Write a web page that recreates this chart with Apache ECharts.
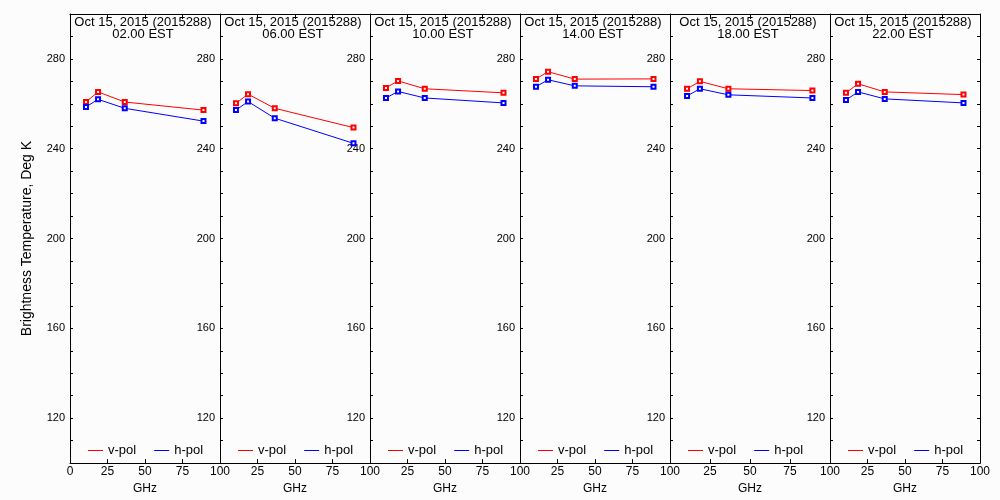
<!DOCTYPE html>
<html>
<head>
<meta charset="utf-8">
<script src="https://cdn.jsdelivr.net/npm/echarts@6/dist/echarts.min.js"></script>
<style>
html,body{margin:0;padding:0;background:#fcfcfc;}
#chart{width:1000px;height:500px;}
</style>
</head>
<body>
<div id="chart"></div>
<script>
// ---- data ----
var freqs = [10.65, 18.7, 36.5, 89.0];
var dateLabel = 'Oct 15, 2015 (2015288)';
var times = ['02.00 EST', '06.00 EST', '10.00 EST', '14.00 EST', '18.00 EST', '22.00 EST'];
var vpol0 = [260.8, 265.3, 260.8, 257.2];
var hpol0 = [258.6, 262.0, 258.0, 252.3];
var vpol1 = [260.2, 264.3, 258.0, 249.4];
var hpol1 = [257.2, 261.0, 253.6, 242.4];
var vpol2 = [267.1, 270.2, 266.7, 264.9];
var hpol2 = [262.6, 265.5, 262.6, 260.4];
var vpol3 = [271.1, 274.3, 271.0, 271.1];
var hpol3 = [267.6, 270.7, 268.0, 267.6];
var vpol4 = [266.7, 270.0, 266.7, 265.9];
var hpol4 = [263.5, 266.7, 264.0, 262.6];
var vpol5 = [264.9, 268.9, 265.3, 264.1];
var hpol5 = [261.7, 265.3, 262.2, 260.4];
var vpolAll = [vpol0, vpol1, vpol2, vpol3, vpol4, vpol5];
var hpolAll = [hpol0, hpol1, hpol2, hpol3, hpol4, hpol5];
var xTicks = [0, 25, 50, 75, 100];
var yLabels = [120, 160, 200, 240, 280];
var seriesNames = ['v-pol', 'h-pol'];

// ---- layout ----
var FONT = "'Liberation Sans', Arial, sans-serif";
var lefts = [70, 220, 370, 520, 670, 830];
var widths = [150, 150, 150, 150, 160, 150];
var TOP = 14, HEIGHT = 450;

var grids = [], xAxes = [], yAxes = [], series = [], legends = [], graphics = [];
function pairs(arr) { return arr.map(function (v, k) { return [freqs[k], v]; }); }

for (var i = 0; i < 6; i++) {
  grids.push({left: lefts[i], top: TOP, width: widths[i], height: HEIGHT, containLabel: false,
    show: false});
  var first = (i === 0);
  xAxes.push({
    type: 'value', gridIndex: i, min: 0, max: 100, interval: 25, position: 'bottom',
    name: 'GHz', nameLocation: 'middle', nameGap: 13,
    nameTextStyle: {fontFamily: FONT, fontSize: 12, color: '#000'},
    axisLine: {show: true, onZero: false, lineStyle: {color: '#000', width: 1}},
    axisTick: {show: true, inside: true, length: 4, lineStyle: {color: '#000'}},
    axisLabel: {show: true, margin: 3, fontFamily: FONT, fontSize: 12, color: '#000',
      showMinLabel: first, showMaxLabel: true,
      formatter: function (v) { return xTicks.indexOf(v) >= 0 ? String(v) : ''; }},
    splitLine: {show: false}
  });
  yAxes.push({
    type: 'value', gridIndex: i, min: 100, max: 300, interval: 10, position: 'left',
    name: first ? 'Brightness Temperature, Deg K' : '', nameLocation: 'middle', nameGap: 36,
    nameTextStyle: {fontFamily: FONT, fontSize: 14, color: '#000'},
    axisLine: {show: true, onZero: false, lineStyle: {color: '#000', width: 1}},
    axisTick: {show: true, inside: true, length: 3, lineStyle: {color: '#000'}},
    axisLabel: {show: true, margin: 5, fontFamily: FONT, fontSize: 11, color: '#000',
      showMinLabel: false, showMaxLabel: false,
      formatter: function (v) { return yLabels.indexOf(v) >= 0 ? String(v) : ''; }},
    splitLine: {show: false}
  });
}
// top axes (frame with ticks)
for (var j = 0; j < 6; j++) {
  xAxes.push({
    type: 'value', gridIndex: j, min: 0, max: 100, interval: 25, position: 'top',
    axisLine: {show: true, onZero: false, lineStyle: {color: '#000', width: 1}},
    axisTick: {show: true, inside: true, length: 5, lineStyle: {color: '#000'}},
    axisLabel: {show: false}, splitLine: {show: false}
  });
}
// right axis on the last panel
yAxes.push({
  type: 'value', gridIndex: 5, min: 100, max: 300, interval: 10, position: 'right',
  axisLine: {show: true, onZero: false, lineStyle: {color: '#000', width: 1}},
  axisTick: {show: true, inside: true, length: 3, lineStyle: {color: '#000'}},
  axisLabel: {show: false}, splitLine: {show: false}
});

var colors = ['#ff0000', '#0000ff'];
for (var p = 0; p < 6; p++) {
  [vpolAll[p], hpolAll[p]].forEach(function (vals, s) {
    series.push({
      type: 'line', name: seriesNames[s], xAxisIndex: p, yAxisIndex: p,
      data: pairs(vals), symbol: 'emptyRect', symbolSize: 4, showSymbol: true,
      lineStyle: {color: colors[s], width: 1}, itemStyle: {color: colors[s], borderWidth: 1},
      animation: false, silent: true
    });
  });
  legends.push({
    left: lefts[p] + 18, top: 444, orient: 'horizontal', padding: 0,
    data: seriesNames, icon: 'rect', itemWidth: 15, itemHeight: 1, itemGap: 18,
    textStyle: {fontFamily: FONT, fontSize: 13, color: '#000'}, selectedMode: false
  });
  graphics.push({
    type: 'text', x: lefts[p] + widths[p] / 2 - 2, y: 16,
    style: {text: dateLabel + '\n' + times[p], textAlign: 'center', textVerticalAlign: 'top',
      fill: '#000', fontFamily: FONT, fontSize: 13, lineHeight: 12}
  });
}

var chart = echarts.init(document.getElementById('chart'), null, {renderer: 'canvas'});
chart.setOption({
  backgroundColor: '#fcfcfc',
  animation: false,
  grid: grids, xAxis: xAxes, yAxis: yAxes, series: series, legend: legends,
  graphic: graphics
});
</script>
</body>
</html>
